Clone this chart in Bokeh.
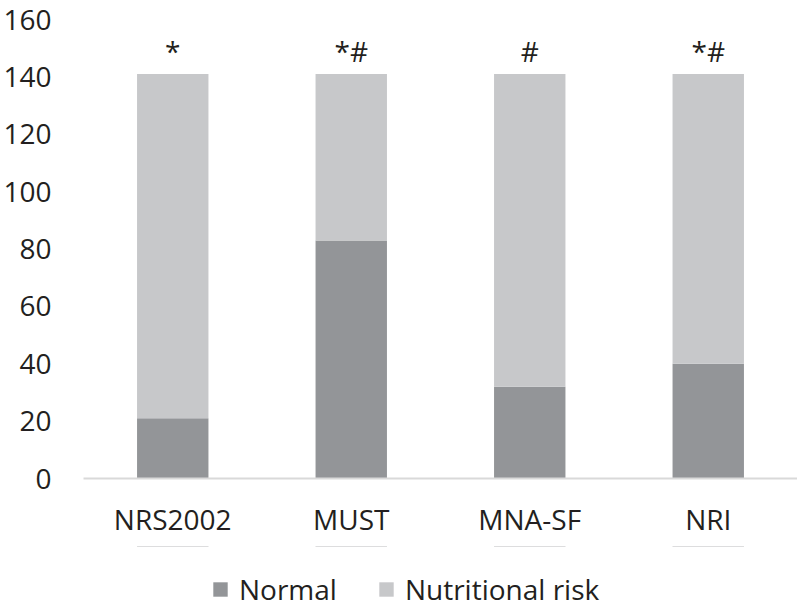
from bokeh.plotting import figure
from bokeh.layouts import column
from bokeh.models import ColumnDataSource, Legend, LegendItem, FactorRange, Range1d, FixedTicker
from bokeh.core.properties import value
from bokeh.embed import file_html
from bokeh.resources import INLINE

categories = ["NRS2002", "MUST", "MNA-SF", "NRI"]
normal = [21, 83, 32, 40]
nutritional_risk = [120, 58, 109, 101]
marks = ["*", "*#", "#", "*#"]
y_ticks = [0, 20, 40, 60, 80, 100, 120, 140, 160]
series = ["Normal", "Nutritional risk"]

DARK = "#939598"
LIGHT = "#c7c8ca"
TEXT = "#231f20"
FONT = "Open Sans"
W = 797

src = ColumnDataSource(dict(cat=categories, Normal=normal, Risk=nutritional_risk,
                            mark=marks,
                            mark_y=[a + b + 8 for a, b in zip(normal, nutritional_risk)]))

p = figure(x_range=FactorRange(*categories, range_padding=0), y_range=Range1d(0, 160),
           width=W, height=546, output_backend="svg", toolbar_location=None,
           min_border_top=19, min_border_right=0, min_border_left=0, min_border_bottom=68,
           outline_line_color=None)

rs = p.vbar_stack(["Normal", "Risk"], x="cat", width=0.4, color=[DARK, LIGHT],
                  line_color=None, source=src)

p.text(x="cat", y="mark_y", text="mark", source=src, text_align="center",
       text_baseline="alphabetic", text_font=value(FONT), text_font_size="28px",
       text_color=TEXT)

p.xgrid.visible = False
p.ygrid.visible = False

p.yaxis.ticker = FixedTicker(ticks=y_ticks)
p.yaxis.axis_line_color = None
p.yaxis.major_tick_line_color = None
p.yaxis.minor_tick_line_color = None
p.yaxis.major_label_standoff = 26
p.yaxis.major_label_text_font = FONT
p.yaxis.major_label_text_font_size = "28px"
p.yaxis.major_label_text_color = TEXT

p.xaxis.axis_line_color = "#d9d9d9"
p.xaxis.axis_line_width = 2
p.xaxis.major_tick_line_color = None
p.xaxis.minor_tick_line_color = None
p.xaxis.major_label_standoff = 15
p.xaxis.major_label_text_font = FONT
p.xaxis.major_label_text_font_size = "28px"
p.xaxis.major_label_text_color = TEXT

# separate strip for the legend, below the chart; its bars lie outside its
# visible y range, so only the legend entries show
lf = figure(width=W, height=62, output_backend="svg", toolbar_location=None,
            x_range=FactorRange(*categories), y_range=Range1d(-2, -1),
            x_axis_type=None, y_axis_type=None, outline_line_color=None,
            min_border=0)
lf.xgrid.visible = False
lf.ygrid.visible = False
lrs = lf.vbar_stack(["Normal", "Risk"], x="cat", width=0.4, color=[DARK, LIGHT],
                    line_color=None, source=src)

legend = Legend(items=[LegendItem(label=series[0], renderers=[lrs[0]]),
                       LegendItem(label=series[1], renderers=[lrs[1]])],
                orientation="horizontal", location=(128, 0),
                glyph_width=18, glyph_height=18, label_standoff=10, spacing=40,
                label_text_font=FONT, label_text_font_size="28px", label_text_color=TEXT,
                border_line_color=None, background_fill_alpha=0, padding=0, margin=0)
lf.add_layout(legend, "center")

layout = column(p, lf, spacing=0)
open("out.html", "w").write(file_html(layout, INLINE))
